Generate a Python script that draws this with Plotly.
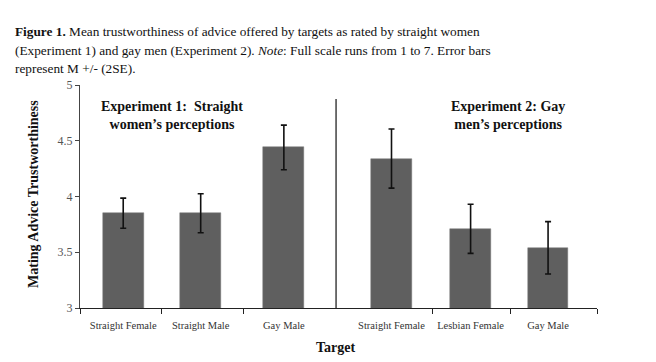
import plotly.graph_objects as go

# ---- data ----
categories = ["Straight Female", "Straight Male", "Gay Male",
              "Straight Female", "Lesbian Female", "Gay Male"]
means = [3.85, 3.85, 4.44, 4.34, 3.71, 3.54]
errors = [0.135, 0.175, 0.20, 0.265, 0.22, 0.235]
y_ticks = [3, 3.5, 4, 4.5, 5]
y_tick_labels = ["3", "3.5", "4", "4.5", "5"]

# ---- layout positions (slot geometry) ----
x_pos = [0.03, 0.98, 2.0, 3.32, 4.29, 5.24]
slot_edges = [-0.5, 0.5, 1.51, 3.82, 4.78, 5.84]
divider_x = 2.64

FONT = "Liberation Serif, Times New Roman, serif"
BAR = "#5f5f5f"

fig = go.Figure()
fig.add_trace(go.Bar(
    x=x_pos, y=means, width=0.5,
    marker=dict(color=BAR, line=dict(color="#7a7a7a", width=0.5)),
    error_y=dict(type="data", array=errors, color="#111111", thickness=1.6, width=3),
    xaxis="x", yaxis="y", showlegend=False,
))
# invisible trace to anchor the boundary-tick axis
fig.add_trace(go.Scatter(x=[slot_edges[0]], y=[3], mode="markers",
                         marker=dict(opacity=0), xaxis="x2", yaxis="y",
                         showlegend=False, hoverinfo="skip"))

# page body has an 8px margin, so the figure is sized to fit the window
fig.update_layout(
    width=648, height=354,
    margin=dict(l=72, r=59, t=77, b=54),
    paper_bgcolor="white", plot_bgcolor="white",
    font=dict(family=FONT, color="#222"),
    bargap=0,
    xaxis=dict(
        range=[-0.5, 5.84], tickvals=x_pos, ticktext=categories,
        ticks="", showline=False, showgrid=False, zeroline=False,
        ticklabelstandoff=9,
        tickfont=dict(family=FONT, size=10.5, color="#333"),
    ),
    xaxis2=dict(
        range=[-0.5, 5.84], overlaying="x", side="bottom",
        tickvals=slot_edges, ticktext=[""] * len(slot_edges),
        ticks="outside", ticklen=5, tickcolor="#222", tickwidth=1,
        showline=True, linecolor="#222", linewidth=1,
        showgrid=False, zeroline=False,
    ),
    yaxis=dict(
        range=[3, 5], tickvals=y_ticks, ticktext=y_tick_labels,
        ticks="outside", ticklen=4, tickcolor="#444",
        showline=True, linecolor="#444", linewidth=1,
        showgrid=False, zeroline=False,
        tickfont=dict(family=FONT, size=12, color="#555"),
    ),
)

# divider between experiments
fig.add_shape(type="line", xref="x", yref="paper", x0=divider_x, x1=divider_x,
              y0=0, y1=0.937, line=dict(color="#111", width=1.2))

# helpers: page pixel -> paper coords (plot area spans x 80..597, y 85..308)
def px_y(ypx):
    return (308 - ypx) / 223.0

def px_x(xpx):
    return (xpx - 80) / 517.0

# experiment labels
fig.add_annotation(text="<b>Experiment 1:  Straight<br>women’s perceptions</b>",
                   xref="paper", yref="paper", x=px_x(172), y=px_y(116),
                   showarrow=False, font=dict(family=FONT, size=14, color="#111"),
                   align="center", xanchor="center", yanchor="middle")
fig.add_annotation(text="<b>Experiment 2: Gay<br>men’s perceptions</b>",
                   xref="paper", yref="paper", x=px_x(508), y=px_y(116),
                   showarrow=False, font=dict(family=FONT, size=14, color="#111"),
                   align="center", xanchor="center", yanchor="middle")

# axis titles
fig.add_annotation(text="<b>Mating Advice Trustworthiness</b>", textangle=-90,
                   xref="paper", yref="paper", x=px_x(33), y=px_y(194),
                   showarrow=False, font=dict(family=FONT, size=14, color="#111"),
                   xanchor="center", yanchor="middle")
fig.add_annotation(text="<b>Target</b>",
                   xref="paper", yref="paper", x=px_x(335), y=px_y(347),
                   showarrow=False, font=dict(family=FONT, size=14, color="#111"),
                   xanchor="center", yanchor="middle")

# caption
caption = [
    "<b>Figure 1.</b> Mean trustworthiness of advice offered by targets as rated by straight women",
    "(Experiment 1) and gay men (Experiment 2). <i>Note</i>: Full scale runs from 1 to 7. Error bars",
    "represent M +/- (2SE).",
]
for line, ypx in zip(caption, [32, 50, 68]):
    fig.add_annotation(text=line, xref="paper", yref="paper",
                       x=px_x(13), y=px_y(ypx), showarrow=False,
                       font=dict(family=FONT, size=13.3, color="#111"),
                       xanchor="left", yanchor="middle", align="left")

fig.write_html("out.html")
